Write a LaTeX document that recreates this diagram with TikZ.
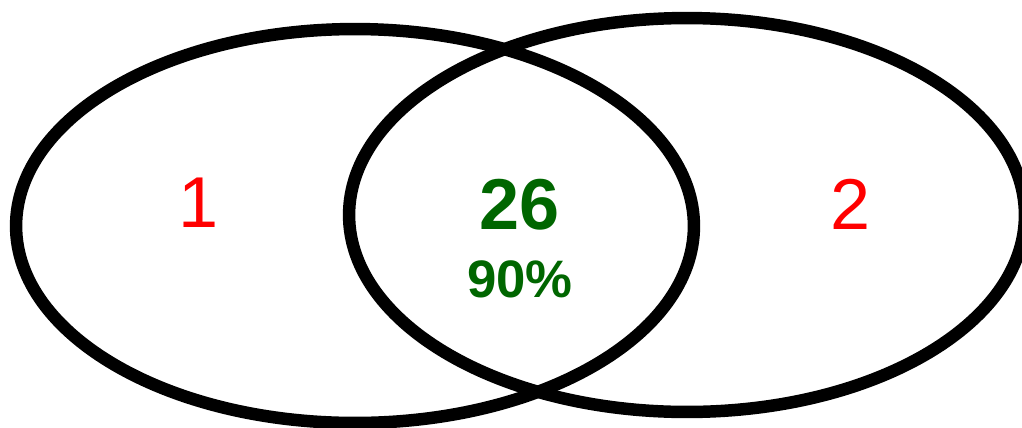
\documentclass[tikz,border=0pt]{standalone}
\usepackage{fontspec}
\setmainfont{Liberation Sans}
\definecolor{setgreen}{RGB}{0,102,0}
\tikzset{setline/.style={line width=7.1pt}}
\begin{document}
\begin{tikzpicture}[x=0.02cm,y=-0.02cm]
\useasboundingbox (0,0) rectangle (1022,427);
\draw[setline] (355,226) ellipse [x radius=6.78cm, y radius=3.94cm];
\draw[setline] (687,215) ellipse [x radius=6.76cm, y radius=3.94cm];
\node[anchor=base, text=red, font=\fontsize{41}{41}\selectfont] (only1) at (199,227) {1};
\node[anchor=base, text=setgreen, font=\fontsize{41}{41}\selectfont\bfseries] (both) at (520,229) {26};
\node[anchor=base, text=setgreen, font=\fontsize{30}{30}\selectfont\bfseries] (pct) at (520,297) {90\%};
\node[anchor=base, text=red, font=\fontsize{41}{41}\selectfont] (only2) at (851,229) {2};
\end{tikzpicture}
\end{document}
